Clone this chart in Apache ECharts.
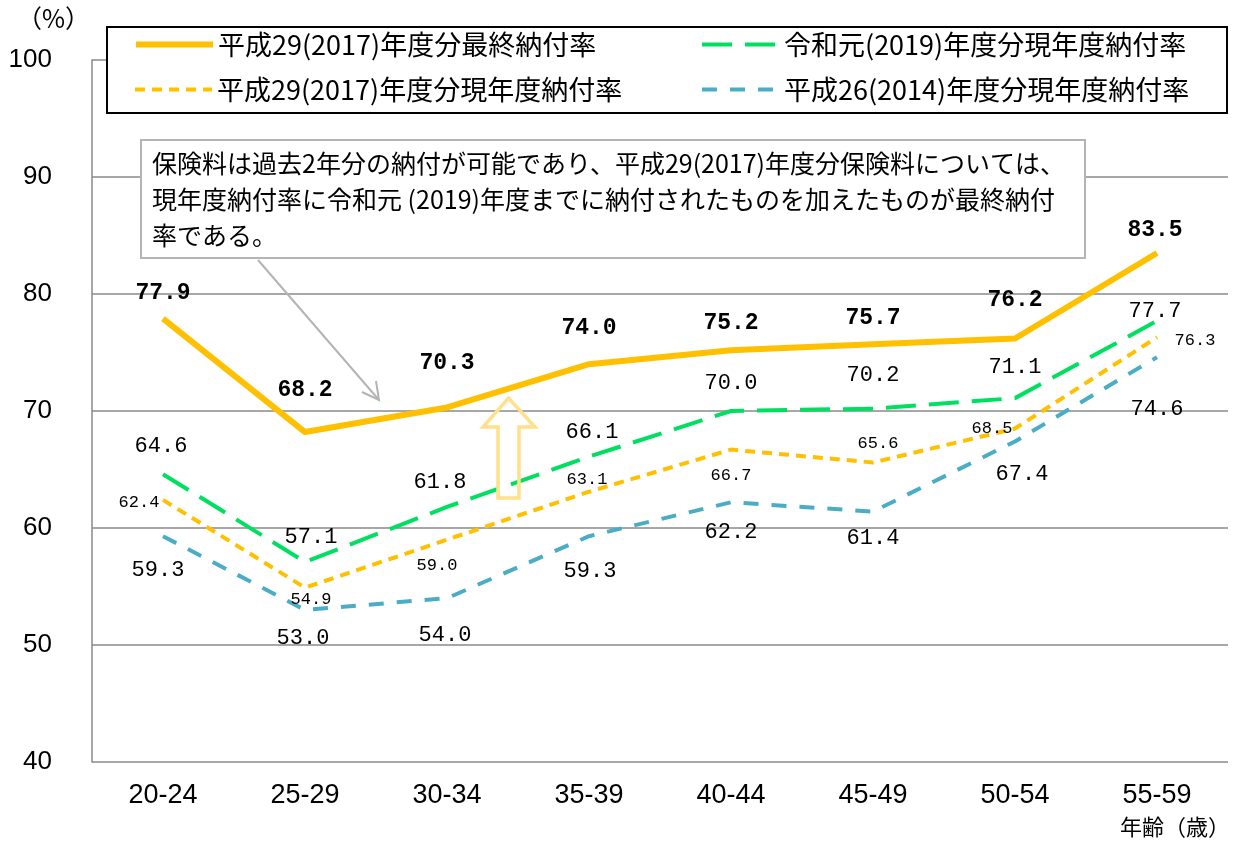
<!DOCTYPE html>
<html>
<head>
<meta charset="utf-8">
<script src="https://cdn.jsdelivr.net/npm/echarts@6/dist/echarts.min.js"></script>
<style>
html, body { margin: 0; padding: 0; background: #fff; }
#chart { width: 1233px; height: 843px; }
</style>
</head>
<body>
<div id="chart"></div>
<script>
// Age groups on the x axis
const categories = ['20-24', '25-29', '30-34', '35-39', '40-44', '45-49', '50-54', '55-59'];

// Payment rates (%) by age group
const finalRate2017 = [77.9, 68.2, 70.3, 74.0, 75.2, 75.7, 76.2, 83.5];
const currentRate2019 = [64.6, 57.1, 61.8, 66.1, 70.0, 70.2, 71.1, 77.7];
const currentRate2017 = [62.4, 54.9, 59.0, 63.1, 66.7, 65.6, 68.5, 76.3];
const currentRate2014 = [59.3, 53.0, 54.0, 59.3, 62.2, 61.4, 67.4, 74.6];

const seriesNames = [
  '平成29(2017)年度分最終納付率',
  '令和元(2019)年度分現年度納付率',
  '平成29(2017)年度分現年度納付率',
  '平成26(2014)年度分現年度納付率'
];

// Label placement (pixel offset of each label centre from its point)
const offsFinal = [[0,-25],[0,-42],[0,-44],[0,-36],[0,-27],[0,-26],[0,-38],[-2,-23]];
const offs2019 = [[-2,-28],[6,-25],[-7,-25],[3,-24],[0,-28],[0,-33],[0,-31],[-2,-10]];
const offs2017 = [[-24,3],[6,12],[-10,26],[-2,-12],[0,26],[5,-19],[-23,0],[38,3]];
const offs2014 = [[-5,34],[-2,28],[-2,37],[1,35],[0,30],[0,27],[7,33],[0,52]];

const NUM_FONT = '"Liberation Mono", "DejaVu Sans Mono", monospace';
const AXIS_FONT = '"Liberation Sans", Arial, sans-serif';
const JP_FONT = '"Noto Sans CJK JP", sans-serif';

function withLabels(values, offsets) {
  return values.map((v, i) => ({ value: v, label: { offset: offsets[i] } }));
}

function makeSeries(name, values, offsets, color, width, dash, labelStyle, z) {
  return {
    name: name,
    type: 'line',
    z: z,
    symbol: 'circle',
    symbolSize: 1,
    showSymbol: true,
    itemStyle: { color: 'rgba(0,0,0,0)', borderWidth: 0 },
    lineStyle: { color: color, width: width, type: dash, cap: 'butt', join: 'round' },
    label: Object.assign({
      show: true,
      position: 'inside',
      color: '#000',
      formatter: p => Number(p.value).toFixed(1)
    }, labelStyle),
    emphasis: { disabled: true },
    data: withLabels(values, offsets)
  };
}

const chart = echarts.init(document.getElementById('chart'), null, { renderer: 'canvas' });

function legendAt(name, left, top, color, width, dash) {
  return {
    data: [name],
    left: left,
    top: top,
    padding: 0,
    itemWidth: 77,
    itemHeight: 14,
    itemGap: 5,
    selectedMode: false,
    itemStyle: { opacity: 0 },
    lineStyle: { color: color, width: width, type: dash, cap: 'butt' },
    textStyle: { fontFamily: JP_FONT, fontSize: 27, color: '#000' }
  };
}

const option = {
  backgroundColor: '#fff',
  animation: false,
  grid: { left: 92, right: 5, top: 60, bottom: 81, containLabel: false },
  legend: [
    legendAt(seriesNames[0], 133, 31, '#FFC000', 6, 'solid'),
    legendAt(seriesNames[1], 700, 31, '#00E060', 4, [30, 13]),
    legendAt(seriesNames[2], 133, 76, '#FFC000', 4, [10, 7]),
    legendAt(seriesNames[3], 700, 76, '#4BACC6', 4, [15, 13])
  ],
  xAxis: {
    type: 'category',
    data: categories,
    boundaryGap: true,
    axisLine: { show: false },
    axisTick: { show: false },
    axisLabel: { margin: 20, fontFamily: AXIS_FONT, fontSize: 27, color: '#000' }
  },
  yAxis: {
    type: 'value',
    min: 40,
    max: 100,
    interval: 10,
    axisLine: { show: true, lineStyle: { color: '#8a8a8a', width: 1.5 } },
    axisTick: { show: false },
    axisLabel: { margin: 40, fontFamily: AXIS_FONT, fontSize: 26, color: '#000' },
    splitLine: { lineStyle: { color: '#8a8a8a', width: 1.5 } }
  },
  series: [
    makeSeries(seriesNames[3], currentRate2014, offs2014, '#4BACC6', 4, [15, 13],
      { fontFamily: NUM_FONT, fontSize: 22 }, 2),
    makeSeries(seriesNames[2], currentRate2017, offs2017, '#FFC000', 4, [10, 7],
      { fontFamily: NUM_FONT, fontSize: 17 }, 3),
    makeSeries(seriesNames[1], currentRate2019, offs2019, '#00E060', 4, [30, 13],
      { fontFamily: NUM_FONT, fontSize: 22 }, 4),
    makeSeries(seriesNames[0], finalRate2017, offsFinal, '#FFC000', 6, 'solid',
      { fontFamily: NUM_FONT, fontSize: 23, fontWeight: 'bold' }, 5)
  ],
  graphic: [
    // unit label and x-axis title
    { type: 'text', left: 17, top: 6, z: 10,
      style: { text: '（%）', font: '25px ' + JP_FONT, fill: '#000' } },
    { type: 'text', left: 1120, top: 816, z: 10,
      style: { text: '年齢（歳）', font: '22px ' + JP_FONT, fill: '#000' } },
    // legend frame
    { type: 'rect', z: 1, shape: { x: 107, y: 27, width: 1120, height: 86 },
      style: { fill: '#fff', stroke: '#000', lineWidth: 2 } },
    // note box
    { type: 'rect', z: 20, shape: { x: 141, y: 140, width: 944, height: 118 },
      style: { fill: '#fff', stroke: '#b4b4b4', lineWidth: 2 } },
    { type: 'text', z: 21, left: 152, top: 145,
      style: {
        text: '保険料は過去2年分の納付が可能であり、平成29(2017)年度分保険料については、\n現年度納付率に令和元 (2019)年度までに納付されたものを加えたものが最終納付\n率である。',
        font: '25px ' + JP_FONT, fill: '#000', lineHeight: 36
      } },
    // pointer from the note
    { type: 'line', z: 20, shape: { x1: 258, y1: 260, x2: 379, y2: 400 },
      style: { stroke: '#b4b4b4', lineWidth: 2 } },
    { type: 'polyline', z: 20, shape: { points: [[362, 392], [379, 400], [376, 381]] },
      style: { stroke: '#b4b4b4', lineWidth: 2, fill: null } },
    // hollow upward arrow
    { type: 'polygon', z: 6,
      shape: { points: [[498, 498], [519, 498], [519, 427], [535, 427], [508.5, 398], [483, 427], [498, 427]] },
      style: { fill: null, stroke: '#FFE08C', lineWidth: 3.5 } }
  ]
};

chart.setOption(option);
</script>
</body>
</html>
